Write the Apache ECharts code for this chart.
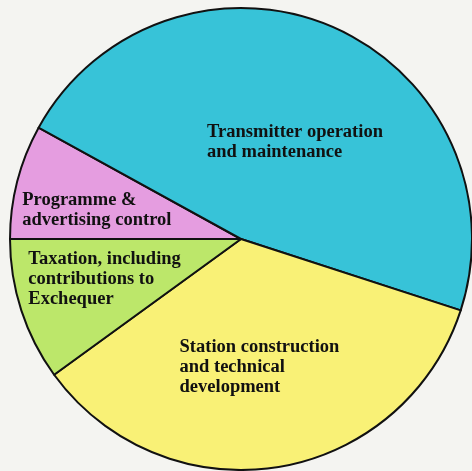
<!DOCTYPE html>
<html><head><meta charset="utf-8">
<script src="https://cdn.jsdelivr.net/npm/echarts@6/dist/echarts.min.js"></script>
<style>html,body{margin:0;padding:0;background:#f4f4f1}#c{width:472px;height:471px}</style>
</head><body><div id="c"></div>
<script>
const categories = [
  "Programme & advertising control",
  "Transmitter operation and maintenance",
  "Station construction and technical development",
  "Taxation, including contributions to Exchequer"
];
const values = [8, 47, 35, 10];
const labelLines = [
  ["Programme &", "advertising control"],
  ["Transmitter operation", "and maintenance"],
  ["Station construction", "and technical", "development"],
  ["Taxation, including", "contributions to", "Exchequer"]
];
const colors = ["#e59de0", "#37c3d8", "#f9f176", "#bce76a"];
const offsets = [[-28, 1], [9, 12], [5, 11], [-19, 4]];
const widths = [152, 180, 170, 162];

const chart = echarts.init(document.getElementById('c'));
chart.setOption({
  backgroundColor: '#f4f4f1',
  animation: false,
  series: [{
    type: 'pie',
    center: [241, 239],
    radius: [0, 231],
    startAngle: 180,
    clockwise: true,
    silent: true,
    itemStyle: { borderColor: '#111', borderWidth: 2 },
    label: {
      show: true,
      position: 'inside',
      color: '#111',
      fontFamily: 'Liberation Serif',
      fontWeight: 'bold',
      fontSize: 18.5,
      lineHeight: 20
    },
    labelLine: { show: false },
    data: categories.map((name, i) => ({
      name,
      value: values[i],
      itemStyle: { color: colors[i] },
      label: {
        offset: offsets[i],
        formatter: labelLines[i].map(l => '{a|' + l + '}').join('\n'),
        rich: { a: { width: widths[i], align: 'left', fontFamily: 'Liberation Serif', fontWeight: 'bold', fontSize: 18.5, lineHeight: 20, color: '#111' } }
      }
    }))
  }]
});
</script></body></html>
